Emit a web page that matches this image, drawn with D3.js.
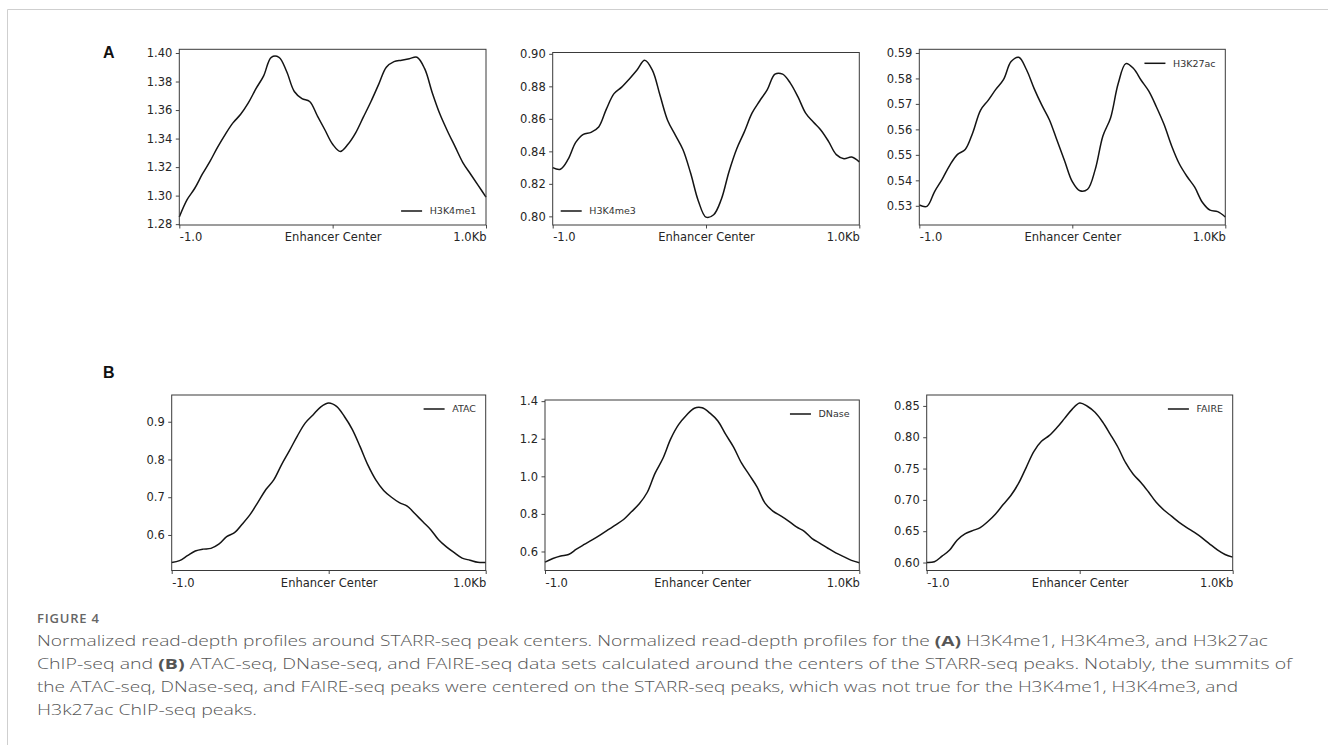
<!DOCTYPE html>
<html>
<head>
<meta charset="utf-8">
<script src="https://cdn.jsdelivr.net/npm/d3@7"></script>
<style>
  body { margin: 0; background: #fff; }
  svg text { font-family: "DejaVu Sans", sans-serif; }
</style>
</head>
<body>
<script>
// bin positions relative to the enhancer center (bp)
const positions = [-1000, -950, -900, -850, -800, -750, -700, -650, -600, -550, -500,
  -450, -400, -350, -300, -250, -200, -150, -100, -50, 0, 50, 100, 150, 200, 250,
  300, 350, 400, 450, 500, 550, 600, 650, 700, 750, 800, 850, 900, 950, 1000];

const xTickValues = [-1000, 0, 1000];
const xTickLabels = ['-1.0', 'Enhancer Center', '1.0Kb'];

// panel A
const h3k4me1 = [1.285, 1.297, 1.305, 1.315, 1.324, 1.334, 1.343, 1.351, 1.357, 1.365, 1.375,
  1.384, 1.397, 1.397, 1.387, 1.373, 1.368, 1.366, 1.356, 1.346, 1.336, 1.331, 1.336, 1.344,
  1.355, 1.366, 1.378, 1.390, 1.394, 1.395, 1.396, 1.397, 1.389, 1.372, 1.357, 1.345, 1.334,
  1.323, 1.315, 1.307, 1.299];
const h3k4me3 = [0.830, 0.829, 0.835, 0.8455, 0.8505, 0.8517, 0.855, 0.866, 0.8755, 0.8795, 0.8845,
  0.890, 0.896, 0.890, 0.8745, 0.859, 0.850, 0.841, 0.8265, 0.8095, 0.7995, 0.801, 0.8105, 0.8275,
  0.8415, 0.852, 0.8635, 0.871, 0.878, 0.8875, 0.8875, 0.882, 0.8735, 0.8635, 0.858, 0.853, 0.846,
  0.838, 0.8355, 0.8365, 0.8335];
const h3k27ac = [0.5303, 0.5298, 0.5356, 0.5405, 0.546, 0.5502, 0.5521, 0.5588, 0.5675, 0.5714, 0.5757,
  0.5795, 0.5866, 0.5883, 0.5835, 0.5761, 0.5696, 0.5638, 0.5557, 0.5476, 0.5395, 0.5359, 0.5365,
  0.5443, 0.5574, 0.5645, 0.578, 0.5858, 0.5839, 0.5793, 0.575, 0.5688, 0.5619, 0.5534, 0.5464,
  0.5415, 0.5373, 0.5314, 0.5283, 0.5277, 0.5256];

// panel B
const atac = [0.527, 0.532, 0.545, 0.5575, 0.5625, 0.5645, 0.5755, 0.5955, 0.606, 0.629, 0.6545,
  0.687, 0.7205, 0.746, 0.7865, 0.8235, 0.862, 0.8964, 0.918, 0.9395, 0.9497, 0.9406, 0.9139,
  0.880, 0.834, 0.785, 0.746, 0.718, 0.6999, 0.6857, 0.6766, 0.656, 0.6349, 0.6141, 0.5873,
  0.5684, 0.553, 0.5388, 0.5331, 0.5275, 0.527];
const dnase = [0.5436, 0.5625, 0.576, 0.584, 0.6123, 0.6375, 0.6618, 0.6877, 0.7147, 0.7413, 0.7702,
  0.8115, 0.8536, 0.9138, 1.0159, 1.0948, 1.1991, 1.2748, 1.3251, 1.3623, 1.3648, 1.3362, 1.2944,
  1.2228, 1.1552, 1.0712, 1.0075, 0.9424, 0.8573, 0.815, 0.7894, 0.762, 0.7308, 0.7075, 0.6687,
  0.6436, 0.6173, 0.5927, 0.5727, 0.5528, 0.5401];
const faire = [0.600, 0.6012, 0.6101, 0.620, 0.6361, 0.6457, 0.6509, 0.6557, 0.6654, 0.6775, 0.6925,
  0.7069, 0.7262, 0.7516, 0.7771, 0.7935, 0.8026, 0.8152, 0.8297, 0.8445, 0.8547, 0.8495, 0.8398,
  0.8243, 0.8046, 0.784, 0.7593, 0.7408, 0.7279, 0.7125, 0.6961, 0.6839, 0.674, 0.6642, 0.6558,
  0.648, 0.6394, 0.6295, 0.6202, 0.6128, 0.6086];

const h3k4me1Ticks = [1.28, 1.30, 1.32, 1.34, 1.36, 1.38, 1.40];
const h3k4me3Ticks = [0.80, 0.82, 0.84, 0.86, 0.88, 0.90];
const h3k27acTicks = [0.53, 0.54, 0.55, 0.56, 0.57, 0.58, 0.59];
const atacTicks = [0.6, 0.7, 0.8, 0.9];
const dnaseTicks = [0.6, 0.8, 1.0, 1.2, 1.4];
const faireTicks = [0.60, 0.65, 0.70, 0.75, 0.80, 0.85];

const captionTitle = 'FIGURE 4';
const captionLines = [
  [['Normalized read-depth profiles around STARR-seq peak centers. Normalized read-depth profiles for the ', false], ['(A)', true], [' H3K4me1, H3K4me3, and H3k27ac', false]],
  [['ChIP-seq and ', false], ['(B)', true], [' ATAC-seq, DNase-seq, and FAIRE-seq data sets calculated around the centers of the STARR-seq peaks. Notably, the summits of', false]],
  [['the ATAC-seq, DNase-seq, and FAIRE-seq peaks were centered on the STARR-seq peaks, which was not true for the H3K4me1, H3K4me3, and', false]],
  [['H3k27ac ChIP-seq peaks.', false]]
];

const panels = [
  { label: 'H3K4me1', values: h3k4me1, ticks: h3k4me1Ticks, fmt: '.2f', box: [179.3, 49.3, 486, 225], legend: 'lower right' },
  { label: 'H3K4me3', values: h3k4me3, ticks: h3k4me3Ticks, fmt: '.2f', box: [552.7, 52.5, 859.3, 225], legend: 'lower left' },
  { label: 'H3K27ac', values: h3k27ac, ticks: h3k27acTicks, fmt: '.2f', box: [919.3, 49.3, 1225.3, 225], legend: 'upper right' },
  { label: 'ATAC', values: atac, ticks: atacTicks, fmt: '.1f', box: [171.7, 395, 485.7, 570.5], legend: 'upper right' },
  { label: 'DNase', values: dnase, ticks: dnaseTicks, fmt: '.1f', box: [545, 400, 859.3, 570.5], legend: 'upper right' },
  { label: 'FAIRE', values: faire, ticks: faireTicks, fmt: '.2f', box: [926.7, 395, 1232.7, 570.5], legend: 'upper right' }
];

const svg = d3.select('body')
  .append('svg')
  .attr('width', 1328)
  .attr('height', 745)

// light page frame
svg.append('path')
  .attr('d', 'M7.5,745 L7.5,9.5 L1328,9.5')
  .attr('fill', 'none')
  .attr('stroke', '#cfcfcf')
  .attr('stroke-width', 1)

svg.append('text').attr('x', 103).attr('y', 58.3)
  .style('font-family', '"Liberation Sans", Arial, sans-serif')
  .style('font-weight', 'bold').style('font-size', '16px').attr('fill', '#111').text('A')
svg.append('text').attr('x', 103).attr('y', 378.3)
  .style('font-family', '"Liberation Sans", Arial, sans-serif')
  .style('font-weight', 'bold').style('font-size', '16px').attr('fill', '#111').text('B')

panels.forEach(drawPanel);

function drawPanel(p) {
  const [x0, y0, x1, y1] = p.box;
  const w = x1 - x0, h = y1 - y0;
  const ext = d3.extent(p.values);
  const pad = (ext[1] - ext[0]) * 0.05;

  const x = d3.scaleLinear().domain([positions[0], positions[positions.length - 1]]).range([0, w]);
  const y = d3.scaleLinear().domain([ext[0] - pad, ext[1] + pad]).range([h, 0]);

  const g = svg.append('g').attr('transform', `translate(${x0}, ${y0})`);

  const line = d3.line()
    .curve(d3.curveCatmullRom.alpha(0.5))
    .x((d, i) => x(positions[i]))
    .y(d => y(d));

  g.append('path')
    .datum(p.values)
    .attr('d', line)
    .attr('fill', 'none')
    .attr('stroke', '#141414')
    .attr('stroke-width', 1.5)
    .attr('stroke-linejoin', 'round')

  const yAxis = d3.axisLeft(y)
    .tickValues(p.ticks)
    .tickFormat(d3.format(p.fmt))
    .tickSize(3.5)
    .tickPadding(3.5);
  const yg = g.append('g').call(yAxis);

  const xAxis = d3.axisBottom(x)
    .tickValues(xTickValues)
    .tickFormat((d, i) => xTickLabels[i])
    .tickSize(3.5)
    .tickPadding(4.5);
  const xg = g.append('g').attr('transform', `translate(0, ${h})`).call(xAxis);
  xg.selectAll('.tick text')
    .attr('text-anchor', (d, i) => i === 0 ? 'start' : (i === 2 ? 'end' : 'middle'));

  [yg, xg].forEach(a => {
    a.select('.domain').remove();
    a.selectAll('.tick line').attr('stroke', '#333').attr('stroke-width', 0.9);
    a.selectAll('.tick text')
      .style('font-family', '"DejaVu Sans", sans-serif')
      .style('font-size', '11.5px')
      .attr('fill', '#262626');
  });

  g.append('rect')
    .attr('width', w)
    .attr('height', h)
    .attr('fill', 'none')
    .attr('stroke', '#3a3a3a')
    .attr('stroke-width', 1)

  // legend
  const ly = p.legend.startsWith('upper') ? 14 : h - 14;
  const lt = g.append('text')
    .attr('y', ly)
    .attr('dy', '0.35em')
    .style('font-size', '9.5px')
    .attr('fill', '#333')
    .text(p.label);
  const tw = lt.node().getComputedTextLength();
  let lineStart;
  if (p.legend.endsWith('right')) {
    const textStart = w - 9.7 - tw;
    lineStart = textStart - 7.6 - 21;
    lt.attr('x', textStart);
  } else {
    lineStart = 8;
    lt.attr('x', lineStart + 21 + 7.6);
  }
  g.append('line')
    .attr('x1', lineStart).attr('x2', lineStart + 21)
    .attr('y1', ly).attr('y2', ly)
    .attr('stroke', '#141414')
    .attr('stroke-width', 1.5)
}

// caption
const capX = 37;
svg.append('text')
  .attr('x', capX).attr('y', 623)
  .style('font-family', '"Open Sans", sans-serif')
  .style('font-size', '13px')
  .style('font-weight', 600)
  .style('letter-spacing', '0.8px')
  .attr('fill', '#666')
  .text(captionTitle)

const lineEnds = [1268, 1292, 1238, 257];
captionLines.forEach((segs, i) => {
  const t = svg.append('text')
    .attr('x', capX)
    .attr('y', 646 + i * 23)
    .attr('textLength', lineEnds[i] - capX)
    .attr('lengthAdjust', 'spacingAndGlyphs')
    .style('font-family', '"Open Sans", sans-serif')
    .style('font-size', '15px')
    .attr('fill', '#555');
  segs.forEach(([s, b]) => {
    t.append('tspan').style('font-weight', b ? 700 : 300).text(s);
  });
});
</script>
</body>
</html>
